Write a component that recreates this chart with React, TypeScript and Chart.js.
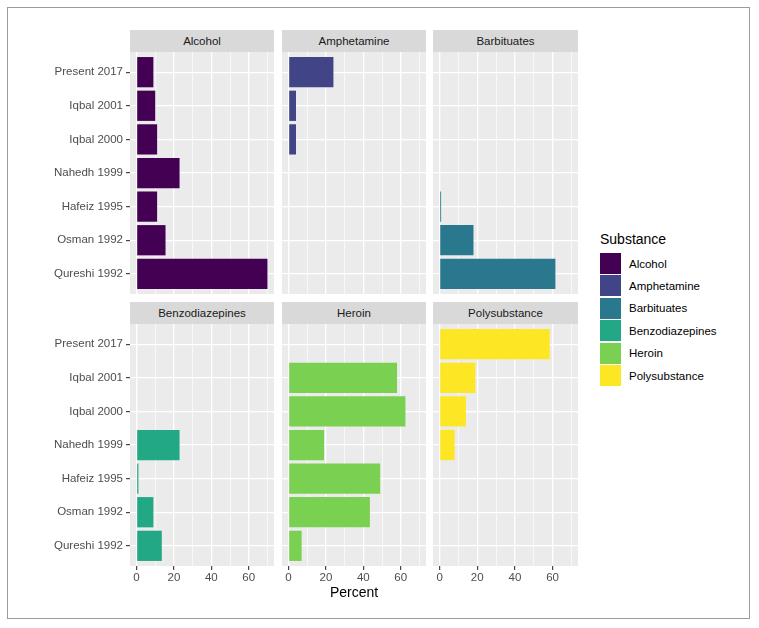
import React, { useEffect, useRef } from "react";
import { Chart, registerables } from "chart.js";

Chart.register(...registerables);

// ---------- data ----------
const categories = [
  "Present 2017",
  "Iqbal 2001",
  "Iqbal 2000",
  "Nahedh 1999",
  "Hafeiz 1995",
  "Osman 1992",
  "Qureshi 1992",
];
const substances = ["Alcohol", "Amphetamine", "Barbituates", "Benzodiazepines", "Heroin", "Polysubstance"];
const substanceColors = ["#440154", "#414487", "#2A788E", "#22A884", "#7AD151", "#FDE725"];

const alcohol = [9, 10, 11, 23, 11, 15.5, 70];
const amphetamine = [24, 4, 4, null, null, null, null];
const barbituates = [null, null, null, null, 0.8, 18, 61.5];
const benzodiazepines = [null, null, null, 23, 1, 9, 13.5];
const heroin = [null, 58, 62.5, 19, 49, 43.5, 7];
const polysubstance = [58.5, 19, 14, 8, null, null, null];

const seriesValues: (number | null)[][] = [alcohol, amphetamine, barbituates, benzodiazepines, heroin, polysubstance];

const xTickValues = [0, 10, 20, 30, 40, 50, 60, 70];
const xMin = -3.5;
const xMax = 73.5;
const axisTitle = "Percent";
const legendTitle = "Substance";

// ---------- layout ----------
const FONT = '"Liberation Sans", Arial, Helvetica, sans-serif';
const COLS = [
  { left: 130, right: 274 },
  { left: 282, right: 426 },
  { left: 433, right: 578 },
];
const ROWS = [
  { stripTop: 30, top: 52, bottom: 294 },
  { stripTop: 302, top: 324, bottom: 566 },
];
const Y_AXIS_W = 120;
const X_AXIS_H = 40;

const panelBg = {
  id: "panelBg",
  beforeDraw(chart: any) {
    const { ctx, chartArea } = chart;
    ctx.save();
    ctx.fillStyle = "#EBEBEB";
    ctx.fillRect(chartArea.left, chartArea.top, chartArea.right - chartArea.left, chartArea.bottom - chartArea.top);
    ctx.restore();
  },
};

function Panel({ index }: { index: number }) {
  const ref = useRef<HTMLCanvasElement | null>(null);
  const row = Math.floor(index / 3);
  const col = index % 3;
  const showY = col === 0;
  const showX = row === 1;
  const showTitle = row === 1 && col === 1;
  const c = COLS[col];
  const r = ROWS[row];
  const left = showY ? c.left - Y_AXIS_W : c.left;
  const width = c.right - c.left + (showY ? Y_AXIS_W : 0);
  const top = r.top;
  const height = r.bottom - r.top + (showX ? X_AXIS_H : 0);

  useEffect(() => {
    if (!ref.current) return;
    const vals = seriesValues[index];
    const data = vals
      .map((v, k) => (v == null ? null : { x: v, y: k }))
      .filter((d) => d !== null);
    const isMajor = (ctx: any) => ctx.tick && ctx.tick.value % 20 === 0;
    const chart = new Chart(ref.current, {
      type: "bar",
      data: {
        datasets: [
          {
            data: data as any,
            backgroundColor: substanceColors[index],
            borderWidth: 0,
            barPercentage: 0.9,
            categoryPercentage: 1,
          },
        ],
      },
      plugins: [panelBg],
      options: {
        indexAxis: "y",
        responsive: false,
        animation: false,
        events: [],
        layout: { padding: 0 },
        plugins: {
          legend: { display: false },
          tooltip: { enabled: false },
          title: { display: false },
        },
        scales: {
          x: {
            type: "linear",
            min: xMin,
            max: xMax,
            bounds: "data",
            position: "bottom",
            offset: false,
            afterBuildTicks: (s: any) => {
              s.ticks = xTickValues.map((v) => ({ value: v }));
            },
            afterFit: (s: any) => {
              s.height = showX ? X_AXIS_H : 0;
              s.paddingLeft = 0;
              s.paddingRight = 0;
            },
            grid: {
              color: "#FFFFFF",
              offset: false,
              lineWidth: (ctx: any) => (isMajor(ctx) ? 1.3 : 0.65),
              drawTicks: showX,
              tickLength: 4,
              tickWidth: 1.1,
              tickColor: (ctx: any) => (isMajor(ctx) ? "#333333" : "rgba(0,0,0,0)"),
            },
            border: { display: false },
            ticks: {
              display: showX,
              autoSkip: false,
              maxRotation: 0,
              padding: 1,
              color: "#4D4D4D",
              font: { family: FONT, size: 11.5 },
              callback: (v: any) => (Number(v) % 20 === 0 ? String(v) : ""),
            },
            title: {
              display: showTitle,
              text: axisTitle,
              color: "#000000",
              font: { family: FONT, size: 14 },
              padding: { top: 0, bottom: 4.6 },
            },
          } as any,
          y: {
            type: "linear",
            reverse: true,
            min: -0.6,
            max: 6.6,
            offset: false,
            position: "left",
            afterBuildTicks: (s: any) => {
              s.ticks = categories.map((_, k) => ({ value: k }));
            },
            afterFit: (s: any) => {
              s.width = showY ? Y_AXIS_W : 0;
              s.paddingTop = 0;
              s.paddingBottom = 0;
            },
            grid: {
              color: "#FFFFFF",
              offset: false,
              lineWidth: 1.3,
              drawTicks: showY,
              tickLength: 4,
              tickWidth: 1.1,
              tickColor: "#333333",
            },
            border: { display: false },
            ticks: {
              display: showY,
              autoSkip: false,
              padding: 3,
              color: "#4D4D4D",
              font: { family: FONT, size: 11.5 },
              callback: (v: any) => categories[Number(v)] ?? "",
            },
          } as any,
        },
      },
    });
    return () => chart.destroy();
  }, [index]);

  return (
    <>
      <canvas
        ref={ref}
        width={width}
        height={height}
        style={{ position: "absolute", left, top, width, height }}
      />
      <div
        style={{
          position: "absolute",
          left: c.left,
          top: r.stripTop,
          width: c.right - c.left,
          height: r.top - r.stripTop,
          background: "#D9D9D9",
          color: "#1A1A1A",
          fontFamily: FONT,
          fontSize: 11.5,
          display: "flex",
          alignItems: "center",
          justifyContent: "center",
        }}
      >
        {substances[index]}
      </div>
    </>
  );
}

function Legend() {
  const keyTop = 253;
  const pitch = 22.4;
  return (
    <>
      <div
        style={{
          position: "absolute",
          left: 600,
          top: 231,
          fontFamily: FONT,
          fontSize: 14,
          lineHeight: "16px",
          color: "#000",
        }}
      >
        {legendTitle}
      </div>
      {substances.map((s, i) => (
        <React.Fragment key={s}>
          <div
            style={{
              position: "absolute",
              left: 600,
              top: keyTop + i * pitch,
              width: 21,
              height: 21,
              background: substanceColors[i],
            }}
          />
          <div
            style={{
              position: "absolute",
              left: 629,
              top: keyTop + i * pitch,
              height: 21,
              display: "flex",
              alignItems: "center",
              fontFamily: FONT,
              fontSize: 11.5,
              color: "#000",
              whiteSpace: "nowrap",
            }}
          >
            {s}
          </div>
        </React.Fragment>
      ))}
    </>
  );
}

export default function App() {
  return (
    <div
      style={{
        position: "absolute",
        left: 0,
        top: 0,
        width: 759,
        height: 628,
        background: "#FFFFFF",
        overflow: "hidden",
      }}
    >
      <div
        style={{
          position: "absolute",
          left: 7,
          top: 7,
          width: 741,
          height: 610,
          border: "1.5px solid #9B9B9B",
        }}
      />
      {substances.map((_, i) => (
        <Panel key={i} index={i} />
      ))}
      <Legend />
    </div>
  );
}
